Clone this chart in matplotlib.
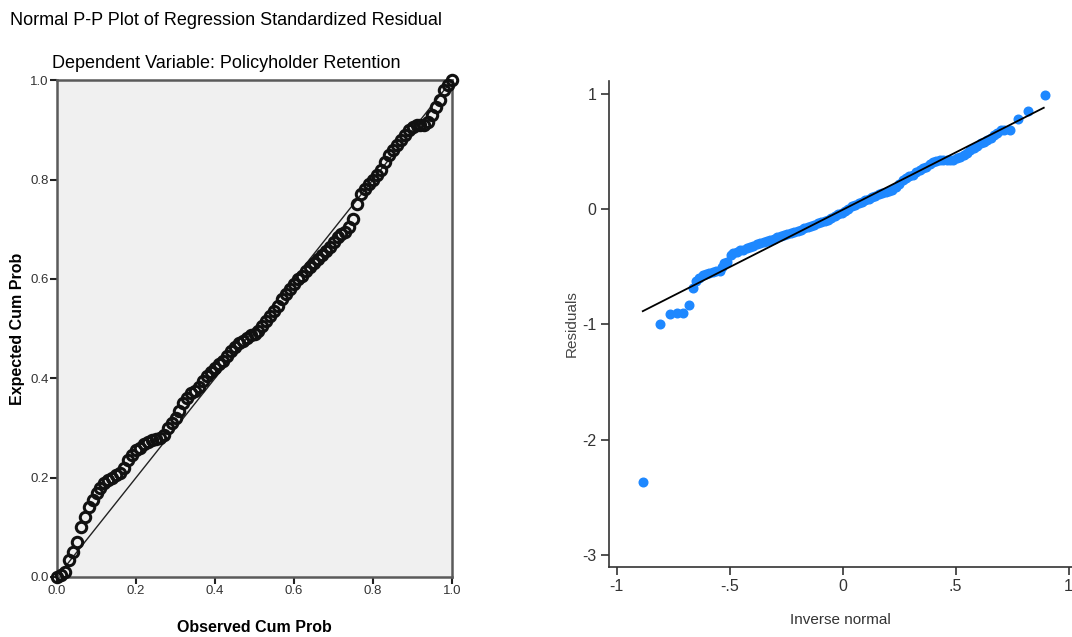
import matplotlib
matplotlib.use("Agg")
import matplotlib.pyplot as plt

plt.rcParams['font.family'] = ['Liberation Sans', 'DejaVu Sans']

# --- left: normal P-P plot (observed vs expected cumulative probability) ---
obs_cum = [0.00, 0.01, 0.02, 0.03, 0.04, 0.05, 0.06, 0.07, 0.08, 0.09,
           0.10, 0.11, 0.12, 0.13, 0.14, 0.15, 0.16, 0.17, 0.18, 0.19,
           0.20, 0.21, 0.22, 0.23, 0.24, 0.25, 0.26, 0.27, 0.28, 0.29,
           0.30, 0.31, 0.32, 0.33, 0.34, 0.35, 0.36, 0.37, 0.38, 0.39,
           0.40, 0.41, 0.42, 0.43, 0.44, 0.45, 0.46, 0.47, 0.48, 0.49,
           0.50, 0.51, 0.52, 0.53, 0.54, 0.55, 0.56, 0.57, 0.58, 0.59,
           0.60, 0.61, 0.62, 0.63, 0.64, 0.65, 0.66, 0.67, 0.68, 0.69,
           0.70, 0.71, 0.72, 0.73, 0.74, 0.75, 0.76, 0.77, 0.78, 0.79,
           0.80, 0.81, 0.82, 0.83, 0.84, 0.85, 0.86, 0.87, 0.88, 0.89,
           0.90, 0.91, 0.92, 0.93, 0.94, 0.95, 0.96, 0.97, 0.98, 0.99, 1.00]
exp_cum = [0.000, 0.005, 0.010, 0.035, 0.050, 0.070, 0.100, 0.120, 0.140, 0.155,
           0.170, 0.180, 0.190, 0.195, 0.200, 0.205, 0.210, 0.220, 0.235, 0.245,
           0.255, 0.260, 0.268, 0.272, 0.275, 0.278, 0.280, 0.285, 0.300, 0.310,
           0.320, 0.335, 0.350, 0.360, 0.370, 0.375, 0.383, 0.395, 0.405, 0.412,
           0.420, 0.428, 0.435, 0.445, 0.455, 0.463, 0.470, 0.475, 0.482, 0.487,
           0.490, 0.495, 0.505, 0.515, 0.525, 0.535, 0.545, 0.560, 0.570, 0.580,
           0.590, 0.600, 0.605, 0.615, 0.624, 0.632, 0.640, 0.648, 0.656, 0.665,
           0.675, 0.685, 0.690, 0.695, 0.705, 0.720, 0.750, 0.770, 0.780, 0.790,
           0.800, 0.810, 0.820, 0.835, 0.850, 0.860, 0.870, 0.880, 0.890, 0.900,
           0.905, 0.910, 0.910, 0.910, 0.915, 0.930, 0.945, 0.960, 0.980, 0.990, 1.000]

pp_ticks = [0.0, 0.2, 0.4, 0.6, 0.8, 1.0]
pp_ticklabels = ["0.0", "0.2", "0.4", "0.6", "0.8", "1.0"]

# --- right: residuals vs inverse normal ---
inv_normal = [-0.885, -0.81, -0.765, -0.735, -0.708, -0.68, -0.663,
              -0.65, -0.635, -0.62, -0.605, -0.59, -0.575, -0.56, -0.545, -0.535, -0.525,
              -0.51, -0.495, -0.485, -0.47, -0.455, -0.44, -0.425, -0.41, -0.395, -0.38,
              -0.365, -0.35, -0.335, -0.32, -0.305, -0.29, -0.275, -0.26, -0.245, -0.23,
              -0.215, -0.20, -0.185, -0.17, -0.155, -0.14, -0.125, -0.11, -0.095, -0.08,
              -0.065, -0.05, -0.035, -0.02, -0.005, 0.01, 0.025, 0.04, 0.055, 0.07,
              0.085, 0.10, 0.115, 0.13, 0.145, 0.16, 0.175, 0.19, 0.205, 0.22,
              0.235, 0.25, 0.265, 0.28, 0.295, 0.31, 0.325, 0.34, 0.355, 0.37,
              0.385, 0.40, 0.415, 0.43, 0.445, 0.46, 0.475, 0.49, 0.505, 0.52,
              0.535, 0.55, 0.565, 0.58, 0.595, 0.61, 0.625, 0.64, 0.655, 0.67,
              0.685, 0.70, 0.715, 0.74, 0.775, 0.82, 0.895]
residuals = [-2.37, -1.00, -0.91, -0.90, -0.90, -0.83, -0.68,
             -0.62, -0.60, -0.57, -0.56, -0.55, -0.545, -0.54, -0.535, -0.50, -0.47,
             -0.46, -0.40, -0.38, -0.37, -0.355, -0.35, -0.34, -0.33, -0.32, -0.305,
             -0.295, -0.285, -0.275, -0.265, -0.255, -0.245, -0.235, -0.225, -0.215, -0.205,
             -0.195, -0.19, -0.18, -0.165, -0.155, -0.145, -0.135, -0.12, -0.11, -0.10,
             -0.09, -0.075, -0.06, -0.045, -0.03, -0.015, 0.0, 0.025, 0.04, 0.05,
             0.065, 0.08, 0.09, 0.105, 0.115, 0.13, 0.14, 0.15, 0.16, 0.17,
             0.19, 0.22, 0.25, 0.27, 0.29, 0.30, 0.32, 0.34, 0.355, 0.37,
             0.39, 0.405, 0.415, 0.425, 0.43, 0.43, 0.43, 0.43, 0.44, 0.45,
             0.47, 0.49, 0.51, 0.53, 0.55, 0.57, 0.585, 0.60, 0.62, 0.64,
             0.66, 0.685, 0.69, 0.685, 0.78, 0.85, 0.99]
fit_x = [-0.885, 0.89]
fit_y = [-0.885, 0.88]

inv_ticks = [-1, -0.5, 0, 0.5, 1]
inv_ticklabels = ["-1", "-.5", "0", ".5", "1"]
res_ticks = [-3, -2, -1, 0, 1]
res_ticklabels = ["-3", "-2", "-1", "0", "1"]

fig = plt.figure(figsize=(10.72, 6.37), dpi=100)

# left panel
ax1 = fig.add_axes([0.0532, 0.0942, 0.3685, 0.780])
ax1.set_facecolor("#f0f0f0")
ax1.plot([0, 1], [0, 1], color="#222222", lw=1.0, zorder=2)
ax1.plot(obs_cum, exp_cum, "o", ms=7.5, mfc="none", mec="#111111", mew=2.2, zorder=3,
         clip_on=False)
ax1.set_xlim(0, 1)
ax1.set_ylim(0, 1)
ax1.set_xticks(pp_ticks)
ax1.set_xticklabels(pp_ticklabels)
ax1.set_yticks(pp_ticks)
ax1.set_yticklabels(pp_ticklabels)
for s in ax1.spines.values():
    s.set_color("#5a5a5a")
    s.set_linewidth(1.8)
ax1.tick_params(direction="out", length=5, width=1.5, colors="#222222",
                labelsize=9.5, labelcolor="#333333", pad=1)
ax1.set_xlabel("Observed Cum Prob", fontsize=11.5, fontweight="bold", labelpad=16)
ax1.set_ylabel("Expected Cum Prob", fontsize=11.5, fontweight="bold")
ax1.yaxis.set_label_coords(-0.08, 0.5)
fig.text(226 / 1072, 1 - 63 / 637, "Dependent Variable: Policyholder Retention",
         fontsize=13, ha="center", va="center")
fig.text(0.009, 0.968, "Normal P-P Plot of Regression Standardized Residual",
         fontsize=13, ha="left", va="center")

# right panel
narrow = ["Liberation Sans Narrow", "Liberation Sans", "DejaVu Sans"]
ax2 = fig.add_axes([0.568, 0.11, 0.432, 0.763])
ax2.plot(fit_x, fit_y, color="black", lw=1.3, zorder=3)
ax2.plot(inv_normal, residuals, "o", ms=6.2, color="#1e88ff", mec="#1e88ff", zorder=2)
ax2.set_xlim(-1.035, 1.015)
ax2.set_ylim(-3.104, 1.113)
ax2.set_xticks(inv_ticks)
ax2.set_xticklabels(inv_ticklabels)
ax2.set_yticks(res_ticks)
ax2.set_yticklabels(res_ticklabels)
ax2.spines["top"].set_visible(False)
ax2.spines["right"].set_visible(False)
for s in ("left", "bottom"):
    ax2.spines[s].set_color("#333333")
    ax2.spines[s].set_linewidth(1.2)
ax2.tick_params(direction="out", length=6, width=1.2, colors="#333333",
                labelsize=11.5, pad=3)
for lab in ax2.get_xticklabels() + ax2.get_yticklabels():
    lab.set_fontfamily(narrow)
ax2.set_xlabel("Inverse normal", fontsize=11, color="#333333", fontfamily=narrow)
ax2.xaxis.set_label_coords(0.5, -0.095)
ax2.set_ylabel("Residuals", fontsize=11, color="#444444",
               fontfamily=["Liberation Sans", "DejaVu Sans"])
ax2.yaxis.set_label_coords(-0.066, 0.5)

fig.savefig("out.png", dpi=100)
